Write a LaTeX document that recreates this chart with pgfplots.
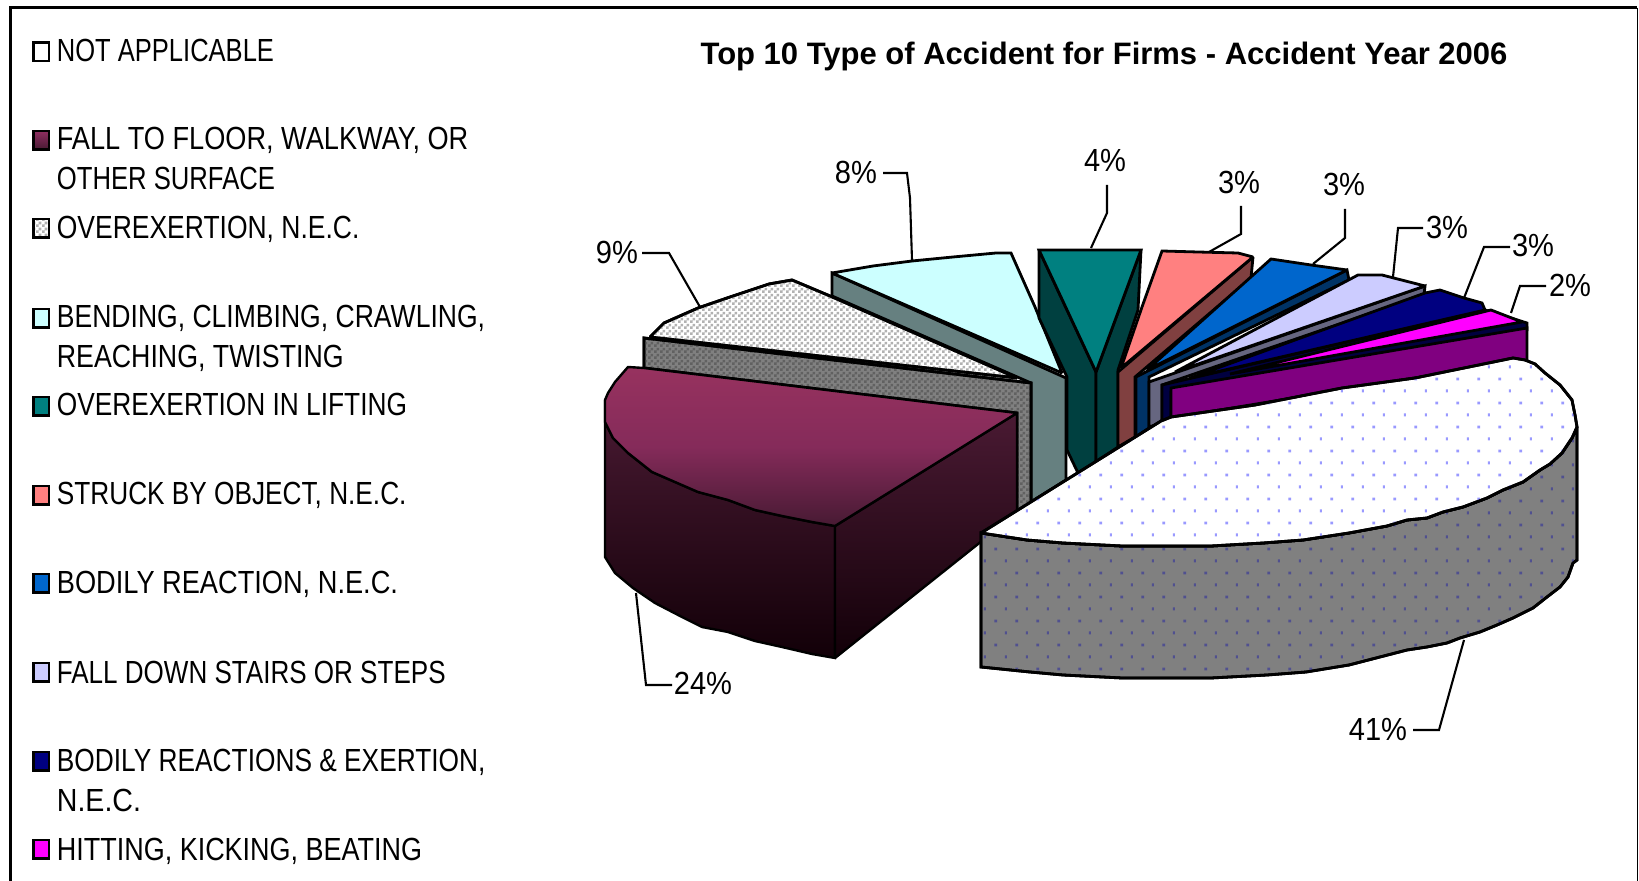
\documentclass[border=0pt]{standalone}
\usepackage{pgfplots}
\pgfplotsset{compat=1.18}
\usepackage{fontspec}
\usetikzlibrary{patterns}
\setmainfont[FakeStretch=0.79]{Liberation Sans}
\newfontfamily\titlefont[FakeStretch=1.0]{Liberation Sans}
\pgfdeclarepatternformonly{dotsw}{\pgfpointorigin}{\pgfqpoint{10.5pt}{12.2pt}}{\pgfqpoint{10.5pt}{12.2pt}}{%
  \pgfpathrectangle{\pgfqpoint{3.85pt}{7.95pt}}{\pgfqpoint{1.5pt}{1.5pt}}%
  \pgfpathrectangle{\pgfqpoint{9.35pt}{1.85pt}}{\pgfqpoint{1pt}{1.5pt}}%
  \pgfusepath{fill}}
\pgfdeclarepatternformonly{checker}{\pgfpointorigin}{\pgfqpoint{3pt}{3pt}}{\pgfqpoint{3pt}{3pt}}{%
  \pgfpathrectangle{\pgfqpoint{0pt}{0pt}}{\pgfqpoint{1.5pt}{1.5pt}}%
  \pgfpathrectangle{\pgfqpoint{1.5pt}{1.5pt}}{\pgfqpoint{1.5pt}{1.5pt}}%
  \pgfusepath{fill}}
\definecolor{plumA}{HTML}{97325F}
\definecolor{plumM}{HTML}{852B5A}
\definecolor{plumB}{HTML}{471A33}
\definecolor{plumC}{HTML}{4A1A33}
\definecolor{plumD}{HTML}{120008}
\definecolor{plumL}{HTML}{8E2E60}
\definecolor{aqua}{HTML}{CCFFFF}
\definecolor{aquaS}{HTML}{668080}
\definecolor{tealT}{HTML}{008080}
\definecolor{tealS}{HTML}{004040}
\definecolor{pinkT}{HTML}{FF8080}
\definecolor{pinkS}{HTML}{804040}
\definecolor{blueT}{HTML}{0066CC}
\definecolor{blueS}{HTML}{003366}
\definecolor{lavT}{HTML}{CCCCFF}
\definecolor{lavS}{HTML}{666680}
\definecolor{navyT}{HTML}{000080}
\definecolor{navyS}{HTML}{000040}
\definecolor{magT}{HTML}{FF00FF}
\definecolor{magS}{HTML}{800080}
\definecolor{dotT}{HTML}{9999FF}
\definecolor{dotS}{HTML}{505090}
\newcommand{\lab}[4]{\node[anchor=base west,inner sep=0pt,font=\fontsize{16}{18}\selectfont] at (axis cs:#1,#2) {\scalebox{#3}[1]{#4}};}
\newcommand{\pct}[3]{\node[inner sep=0pt,font=\fontsize{16}{18}\selectfont] at (axis cs:#1,#2) {\scalebox{1.15}[1]{#3}};}
\begin{document}
\begin{tikzpicture}
\begin{axis}[
  scale only axis, width=819.5pt, height=440.5pt,
  xmin=0, xmax=1639, ymin=0, ymax=881, y dir=reverse,
  axis lines=none, clip=true,
  every axis plot/.append style={mark=none, line join=miter, miter limit=2, solid},
  face/.style={draw=black, line width=1.4pt},
  plumface/.style={draw=black, line width=1.2pt},
  leader/.style={draw=black, line width=1.05pt},
  swatch/.style={draw=black, line width=1.4pt},
]
% background and frame
\addplot[fill=white, draw=none] coordinates {(0,0)(1639,0)(1639,881)(0,881)} -- cycle;
\addplot[draw=black, line width=1.5pt] coordinates {(10,881)(10,8)(1637,8)};
\addplot[draw=black, line width=0.8pt] coordinates {(1637.5,8)(1637.5,881)};
% 8% bending, climbing
\addplot[face, fill=aquaS] coordinates {(832,273)(1066,378)(1066,480)(1031,502)(1031,383)(832,296)} -- cycle;
\addplot[face, fill=aqua] coordinates {(832,273)(873,266)(912,261)(953,257)(996,253)(1011,253)(1035,307)(1062,373)} -- cycle;
% 9% overexertion
\addplot[face, fill=white, postaction={pattern=checker, pattern color=black!30}] coordinates {(650,337)(664,323)(698,308)(730,297)(769,284)(792,280)(830,296)(1017,378)} -- cycle;
\addplot[face, fill=gray, postaction={pattern=checker, pattern color=black!62}] coordinates {(644,338)(1031,383)(1031,505)(1017,515)(1017,413)(644,368)} -- cycle;
% 24% fall to floor
\addplot[plumface, top color=plumC, bottom color=plumD] coordinates {(605,400)(605,422)(613,438)(628,453)(652,472)(675,482)(698,492)(728,500)(755,510)(782,516)(812,522)(835,526)(835,658)(812,654)(782,647)(755,641)(728,632)(702,627)(682,617)(655,603)(633,588)(615,573)(605,557)} -- cycle;
\addplot[plumface, top color=plumC, bottom color=plumD] coordinates {(835,526)(1017,413)(1017,513)(835,658)} -- cycle;
\addplot[plumface, top color=plumA, bottom color=plumB, middle color=plumM] coordinates {(628,367)(615,382)(608,393)(605,400)(605,422)(613,438)(628,453)(652,472)(675,482)(698,492)(728,500)(755,510)(782,516)(812,522)(835,526)(1017,413)(644,368)} -- cycle;
% 4% overexertion in lifting
\addplot[face, fill=tealS] coordinates {(1039,250)(1096,372)(1096,462)(1078,473)(1067,450)(1067,377)(1039,318)} -- cycle;
\addplot[face, fill=tealS] coordinates {(1141,250)(1138,310)(1118,370)(1118,447)(1096,462)(1096,372)} -- cycle;
\addplot[face, fill=tealT] coordinates {(1039,250)(1141,250)(1096,372)} -- cycle;
% 3% struck by object
\addplot[face, fill=pinkS] coordinates {(1253,257)(1251,278)(1135,377)(1135,437)(1118,447)(1118,372)} -- cycle;
\addplot[face, fill=pinkT] coordinates {(1162,251)(1198,252)(1238,253)(1253,257)(1121,368)(1142,307)} -- cycle;
% 3% bodily reaction
\addplot[face, fill=blueS] coordinates {(1347,270)(1349,280)(1149,377)(1149,428)(1136,437)(1136,377)} -- cycle;
\addplot[face, fill=blueT] coordinates {(1271,259)(1311,265)(1347,270)(1147,370)} -- cycle;
% 3% fall down stairs
\addplot[face, fill=lavS] coordinates {(1425,286)(1424,295)(1162,385)(1162,423)(1149,427)(1149,382)} -- cycle;
\addplot[face, fill=lavT] coordinates {(1358,275)(1382,275)(1425,286)(1175,372)} -- cycle;
% 3% bodily reactions and exertion
\addplot[face, fill=navyS] coordinates {(1485,310)(1527,323)(1527,330)(1171,392)(1171,418)(1162,422)(1162,385)} -- cycle;
\addplot[face, fill=navyT] coordinates {(1425,293)(1440,290)(1464,298)(1482,303)(1485,310)(1190,378)} -- cycle;
% 2% hitting, kicking
\addplot[face, fill=magT] coordinates {(1491,310)(1522,322)(1230,374)} -- cycle;
\addplot[face, fill=magS] coordinates {(1527,328)(1527,361)(1415,378)(1171,418)(1171,388)} -- cycle;
% 41% not applicable
\addplot[face, fill=gray, postaction={pattern=dotsw, pattern color=dotS}] coordinates {(981,533)(1027,540)(1063,543)(1122,546)(1211,546)(1263,543)(1303,540)(1349,533)(1387,526)(1407,520)(1427,518)(1443,512)(1463,507)(1487,498)(1503,490)(1523,482)(1540,470)(1550,464)(1562,453)(1572,438)(1577,427)(1577,560)(1573,563)(1568,577)(1560,587)(1547,597)(1533,608)(1513,618)(1497,625)(1480,632)(1460,638)(1447,643)(1427,647)(1407,650)(1349,665)(1306,672)(1267,675)(1211,678)(1122,678)(1063,675)(1030,672)(981,667)} -- cycle;
\addplot[face, fill=white, postaction={pattern=dotsw, pattern color=dotT}] coordinates {(981,533)(1161,421)(1171,417)(1255,405)(1342,388)(1415,378)(1513,358)(1525,360)(1535,364)(1545,373)(1560,385)(1572,400)(1575,415)(1577,427)(1572,438)(1562,453)(1550,464)(1540,470)(1523,482)(1503,490)(1487,498)(1463,507)(1443,512)(1427,518)(1407,520)(1387,526)(1349,533)(1303,540)(1263,543)(1211,546)(1122,546)(1063,543)(1027,540)} -- cycle;
% leaders
\addplot[leader] coordinates {(642,253)(669,253)(700,307)};
\addplot[leader] coordinates {(883,173)(907,173)(910,198)(912,260)};
\addplot[leader] coordinates {(1107,185)(1107,213)(1091,248)};
\addplot[leader] coordinates {(1241,206)(1241,234)(1209,252)};
\addplot[leader] coordinates {(1345,209)(1345,238)(1313,264)};
\addplot[leader] coordinates {(1423,228)(1398,228)(1393,277)};
\addplot[leader] coordinates {(1510,247)(1484,247)(1464,298)};
\addplot[leader] coordinates {(1546,286)(1520,286)(1511,313)};
\addplot[leader] coordinates {(1464,640)(1439,730)(1413,730)};
\addplot[leader] coordinates {(636,593)(646,685)(672,685)};
% legend swatches
\addplot[swatch, fill=white] coordinates {(33.5,42.5)(49,42.5)(49,61)(33.5,61)} -- cycle;
\addplot[swatch, top color=plumL, bottom color=plumB] coordinates {(33.5,131)(49,131)(49,149.5)(33.5,149.5)} -- cycle;
\addplot[swatch, fill=white, postaction={pattern=checker, pattern color=black!30}] coordinates {(33.5,219)(49,219)(49,237.5)(33.5,237.5)} -- cycle;
\addplot[swatch, fill=aqua] coordinates {(33.5,309)(49,309)(49,327.5)(33.5,327.5)} -- cycle;
\addplot[swatch, fill=tealT] coordinates {(33.5,397)(49,397)(49,415.5)(33.5,415.5)} -- cycle;
\addplot[swatch, fill=pinkT] coordinates {(33.5,486)(49,486)(49,504.5)(33.5,504.5)} -- cycle;
\addplot[swatch, fill=blueT] coordinates {(33.5,574)(49,574)(49,592.5)(33.5,592.5)} -- cycle;
\addplot[swatch, fill=lavT] coordinates {(33.5,663)(49,663)(49,681.5)(33.5,681.5)} -- cycle;
\addplot[swatch, fill=navyT] coordinates {(33.5,752)(49,752)(49,770.5)(33.5,770.5)} -- cycle;
\addplot[swatch, fill=magT] coordinates {(33.5,840)(49,840)(49,858.5)(33.5,858.5)} -- cycle;
% legend text
\lab{56.5}{62}{1.01}{NOT APPLICABLE}
\lab{56.5}{150}{1.074}{FALL TO FLOOR, WALKWAY, OR}
\lab{56.5}{190}{1.015}{OTHER SURFACE}
\lab{56.5}{239}{1.047}{OVEREXERTION, N.E.C.}
\lab{56.5}{328}{1.05}{BENDING, CLIMBING, CRAWLING,}
\lab{56.5}{368}{1.058}{REACHING, TWISTING}
\lab{56.5}{416}{1.04}{OVEREXERTION IN LIFTING}
\lab{56.5}{505}{1.037}{STRUCK BY OBJECT, N.E.C.}
\lab{56.5}{594}{1.076}{BODILY REACTION, N.E.C.}
\lab{56.5}{683}{1.03}{FALL DOWN STAIRS OR STEPS}
\lab{56.5}{771}{1.04}{BODILY REACTIONS \& EXERTION,}
\lab{56.5}{811}{1.13}{N.E.C.}
\lab{56.5}{860}{1.067}{HITTING, KICKING, BEATING}
% percentages
\pct{617}{252}{9\%}
\pct{856}{172}{8\%}
\pct{1105}{160}{4\%}
\pct{1239}{182}{3\%}
\pct{1344}{184}{3\%}
\pct{1447}{227}{3\%}
\pct{1533}{245}{3\%}
\pct{1570}{285}{2\%}
\pct{1378}{729}{41\%}
\pct{703}{683}{24\%}
% title
\node[inner sep=0pt,font=\titlefont\bfseries\fontsize{15.5}{18}\selectfont] at (axis cs:1104,56) {Top 10 Type of Accident for Firms - Accident Year 2006};
\end{axis}
\end{tikzpicture}
\end{document}
